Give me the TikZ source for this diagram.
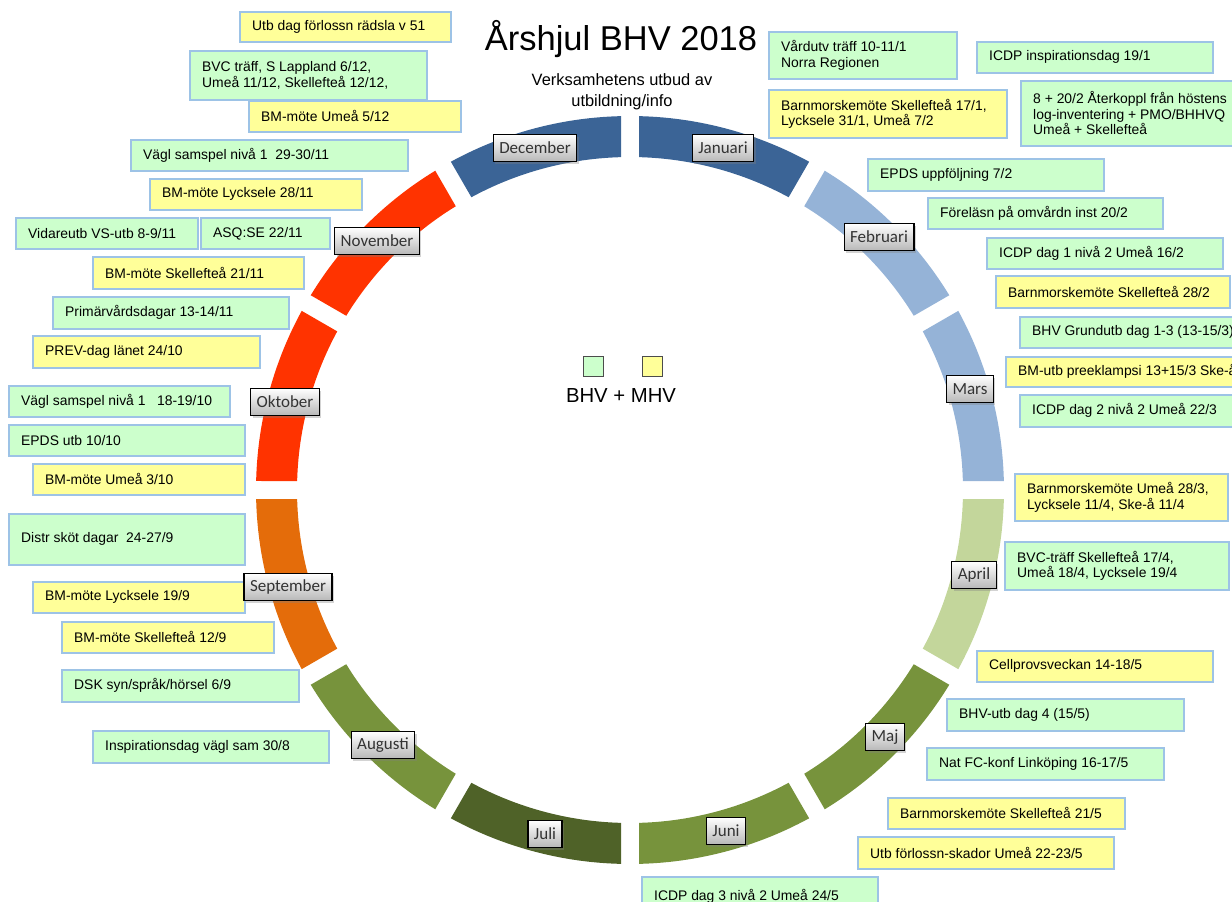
\documentclass[tikz,border=0pt]{standalone}
\usepackage{fontspec}
\setmainfont{Liberation Sans}
\newfontfamily\calfont{Carlito}
\usetikzlibrary{shadows}
\definecolor{mblue}{HTML}{3B6496}
\definecolor{mlblue}{HTML}{95B3D7}
\definecolor{mlgreen}{HTML}{C3D69B}
\definecolor{mgreen}{HTML}{77933C}
\definecolor{mdgreen}{HTML}{4F6228}
\definecolor{morange}{HTML}{E46C0A}
\definecolor{mred}{HTML}{FF3300}
\definecolor{evgreen}{HTML}{CCFFCC}
\definecolor{evyellow}{HTML}{FFFF99}
\definecolor{evborder}{HTML}{9DC3E6}
\newcommand\ev[7]{%
 \pgfmathsetmacro\evW{#4-#2}\pgfmathsetmacro\evH{#5-#3}%
 \node[evbox,fill=#6,minimum width=\evW pt,minimum height=\evH pt,anchor=north west] (#1) at (#2,#3) {};
 \node[evtext,anchor=west] (#1t) at ([xshift=13pt]#1.west) {#7};}
\tikzset{
 evbox/.style={draw=evborder,line width=1.6pt,inner sep=0pt},
 evtext/.style={inner sep=0pt,align=left,font=\fontsize{13.9}{15.5}\selectfont},
 month/.style={draw=black,line width=1.2pt,top color=white,bottom color=black!28,minimum height=27pt,inner xsep=6pt,inner ysep=0pt,font=\calfont\fontsize{17}{17}\selectfont,text=black!80,drop shadow={shadow xshift=2pt,shadow yshift=-2pt,opacity=0.35}},
 legsq/.style={draw=black!70,line width=0.8pt,minimum width=20pt,minimum height=20pt,inner sep=0pt}
}
\begin{document}
\begin{tikzpicture}[x=1pt,y=-1pt]
\useasboundingbox (0,0) rectangle (1232,902);
\begin{scope}
\clip (0,0) rectangle (1232,902);
% title
\node[inner sep=0pt,anchor=base,font=\fontsize{34.5}{36}\selectfont] (title) at (621,50) {Årshjul BHV 2018};
\node[inner sep=0pt,anchor=base,font=\fontsize{16.4}{20}\selectfont] (sub1) at (622,85) {Verksamhetens utbud av};
\node[inner sep=0pt,anchor=base,font=\fontsize{16.4}{20}\selectfont] (sub2) at (622,106) {utbildning/info};
% legend
\node[legsq,fill=evgreen] (lgG) at (593,366) {};
\node[legsq,fill=evyellow] (lgY) at (652,366) {};
\node[inner sep=0pt,anchor=base,font=\fontsize{20.3}{22}\selectfont] (lgT) at (621,402) {BHV + MHV};
% events left
\ev{L1}{239}{11}{450}{41}{evyellow}{Utb dag förlossn rädsla v 51}
\ev{L2}{189}{50}{426}{99}{evgreen}{BVC träff, S Lappland 6/12,\\Umeå 11/12, Skellefteå 12/12,}
\ev{L3}{248}{100}{460}{131}{evyellow}{BM-möte Umeå 5/12}
\ev{L4}{130}{139}{407}{170}{evgreen}{Vägl samspel nivå 1\ \ 29-30/11}
\ev{L5}{149}{178}{361}{209}{evyellow}{BM-möte Lycksele 28/11}
\ev{L6}{15}{217}{197}{248}{evgreen}{Vidareutb VS-utb 8-9/11}
\ev{L7}{200}{217}{329}{248}{evgreen}{ASQ:SE 22/11}
\ev{L8}{92}{256}{303}{288}{evyellow}{BM-möte Skellefteå 21/11}
\ev{L9}{52}{296}{288}{328}{evgreen}{Primärvårdsdagar 13-14/11}
\ev{L10}{32}{335}{259}{367}{evyellow}{PREV-dag länet 24/10}
\ev{L11}{8}{385}{229}{416}{evgreen}{Vägl samspel nivå 1\ \ \ 18-19/10}
\ev{L12}{8}{424}{244}{455}{evgreen}{EPDS utb 10/10}
\ev{L13}{32}{463}{244}{494}{evyellow}{BM-möte Umeå 3/10}
\ev{L14}{8}{513}{244}{564}{evgreen}{Distr sköt dagar\ \ 24-27/9}
\ev{L15}{32}{581}{244}{612}{evyellow}{BM-möte Lycksele 19/9}
\ev{L16}{61}{621}{273}{652}{evyellow}{BM-möte Skellefteå 12/9}
\ev{L17}{61}{669}{298}{701}{evgreen}{DSK syn/språk/hörsel 6/9}
\ev{L18}{92}{730}{328}{762}{evgreen}{Inspirationsdag vägl sam 30/8}
% events right
\ev{R1}{768}{31}{956}{78}{evgreen}{Vårdutv träff 10-11/1\\Norra Regionen}
\ev{R2}{976}{41}{1212}{72}{evgreen}{ICDP inspirationsdag 19/1}
\ev{R3}{768}{89}{1006}{137}{evyellow}{Barnmorskemöte Skellefteå 17/1,\\Lycksele 31/1, Umeå 7/2}
\ev{R4}{1020}{80}{1250}{145}{evgreen}{8 + 20/2 Återkoppl från höstens\\log-inventering + PMO/BHHVQ\\Umeå + Skellefteå}
\ev{R5}{867}{158}{1103}{190}{evgreen}{EPDS uppföljning 7/2}
\ev{R6}{927}{197}{1162}{228}{evgreen}{Föreläsn på omvårdn inst 20/2}
\ev{R7}{986}{237}{1222}{268}{evgreen}{ICDP dag 1 nivå 2 Umeå 16/2}
\ev{R8}{995}{275}{1229}{307}{evyellow}{Barnmorskemöte Skellefteå 28/2}
\ev{R9}{1019}{316}{1250}{347}{evgreen}{BHV Grundutb dag 1-3 (13-15/3)}
\ev{R10}{1005}{356}{1250}{386}{evyellow}{BM-utb preeklampsi 13+15/3 Ske-å}
\ev{R11}{1019}{394}{1250}{426}{evgreen}{ICDP dag 2 nivå 2 Umeå 22/3}
\ev{R12}{1014}{473}{1227}{520}{evyellow}{Barnmorskemöte Umeå 28/3,\\Lycksele 11/4, Ske-å 11/4}
\ev{R13}{1004}{541}{1228}{589}{evgreen}{BVC-träff Skellefteå 17/4,\\Umeå 18/4, Lycksele 19/4}
\ev{R14}{976}{650}{1212}{681}{evyellow}{Cellprovsveckan 14-18/5}
\ev{R15}{946}{698}{1183}{730}{evgreen}{BHV-utb dag 4 (15/5)}
\ev{R16}{926}{747}{1163}{779}{evgreen}{Nat FC-konf Linköping 16-17/5}
\ev{R17}{887}{797}{1124}{828}{evyellow}{Barnmorskemöte Skellefteå 21/5}
\ev{R18}{857}{836}{1113}{868}{evyellow}{Utb förlossn-skador Umeå 22-23/5}
\ev{R19}{641}{876}{877}{915}{evgreen}{ICDP dag 3 nivå 2 Umeå 24/5}
% ring
\foreach \i/\c in {0/mblue,1/mlblue,2/mlblue,3/mlgreen,4/mgreen,5/mgreen,6/mdgreen,7/mgreen,8/morange,9/mred,10/mred,11/mblue}{
 \pgfmathsetmacro\ao{90-30*\i-1.38}
 \pgfmathsetmacro\bo{60-30*\i+1.38}
 \pgfmathsetmacro\ai{60-30*\i+1.55}
 \pgfmathsetmacro\bi{90-30*\i-1.55}
 \fill[\c] plot[domain=\ao:\bo,samples=30] ({630+374*cos(\x)},{490-374*sin(\x)})
   -- plot[domain=\ai:\bi,samples=30] ({630+333*cos(\x)},{490-333*sin(\x)}) -- cycle;
}
% month labels
\node[month] (mJan) at (723,148) {Januari};
\node[month] (mFeb) at (879,237) {Februari};
\node[month] (mMar) at (970,389) {Mars};
\node[month] (mApr) at (974,575) {April};
\node[month] (mMaj) at (885,737) {Maj};
\node[month] (mJun) at (726,831) {Juni};
\node[month] (mJul) at (545,834) {Juli};
\node[month] (mAug) at (383,745) {Augusti};
\node[month] (mSep) at (288,587) {September};
\node[month] (mOkt) at (285,402) {Oktober};
\node[month] (mNov) at (377,241) {November};
\node[month] (mDec) at (535,148) {December};
\end{scope}
\end{tikzpicture}
\end{document}
